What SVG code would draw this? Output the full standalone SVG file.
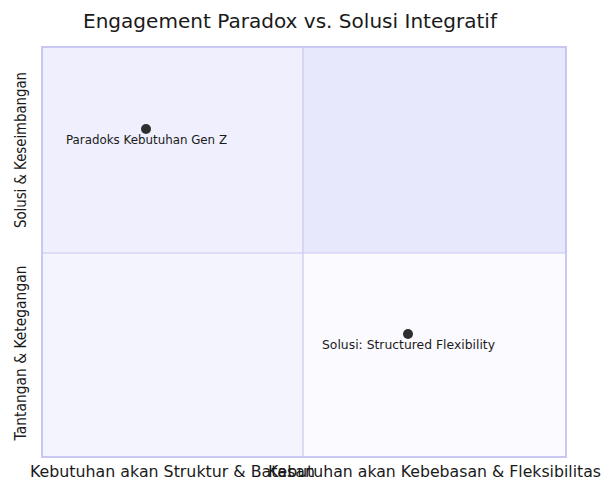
<svg xmlns="http://www.w3.org/2000/svg" width="603" height="482" viewBox="0 0 603 482">
<style>
text{font-family:"DejaVu Sans","Open Sans",sans-serif;fill:#1a1a1a}
.title{font-size:19px}
.axis{font-size:15px}
.pt{font-size:11.5px}
.q{stroke:none}
.inner{stroke:#c8c8f2;stroke-width:1.2;fill:none}
.outer{stroke:#c8c8f2;stroke-width:2;fill:none}
.dot{fill:#2f2f2f}
</style>
<rect width="603" height="482" fill="#ffffff"/>
<text class="title" x="290" y="28" text-anchor="middle" textLength="414" lengthAdjust="spacingAndGlyphs">Engagement Paradox vs. Solusi Integratif</text>
<g id="quadrants">
<rect class="q" x="303" y="47" width="263" height="206" fill="#e8e8fd"/>
<rect class="q" x="42" y="47" width="261" height="206" fill="#efeffd"/>
<rect class="q" x="42" y="253" width="261" height="204" fill="#f4f4fe"/>
<rect class="q" x="303" y="253" width="263" height="204" fill="#fafaff"/>
</g>
<g id="connectors">
<line class="inner" x1="303" y1="47" x2="303" y2="457"/>
<line class="inner" x1="42" y1="253" x2="566" y2="253"/>
<rect class="outer" x="42" y="47" width="524" height="410"/>
</g>
<g id="axis-y">
<text class="axis" transform="translate(26,150) rotate(-90)" text-anchor="middle" textLength="156" lengthAdjust="spacingAndGlyphs">Solusi &amp; Keseimbangan</text>
<text class="axis" transform="translate(26,353) rotate(-90)" text-anchor="middle" textLength="175" lengthAdjust="spacingAndGlyphs">Tantangan &amp; Ketegangan</text>
</g>
<g id="axis-x">
<text class="axis" x="172.5" y="477" text-anchor="middle" textLength="285" lengthAdjust="spacingAndGlyphs">Kebutuhan akan Struktur &amp; Batasan</text>
<text class="axis" x="434.5" y="477" text-anchor="middle" textLength="333" lengthAdjust="spacingAndGlyphs">Kebutuhan akan Kebebasan &amp; Fleksibilitas</text>
</g>
<g id="point-paradoks">
<circle class="dot" cx="146" cy="129" r="5"/>
<text class="pt" x="146.5" y="144" text-anchor="middle" textLength="161" lengthAdjust="spacingAndGlyphs">Paradoks Kebutuhan Gen Z</text>
</g>
<g id="point-solusi">
<circle class="dot" cx="408" cy="334" r="5"/>
<text class="pt" x="408.5" y="349" text-anchor="middle" textLength="173" lengthAdjust="spacingAndGlyphs">Solusi: Structured Flexibility</text>
</g>
</svg>
